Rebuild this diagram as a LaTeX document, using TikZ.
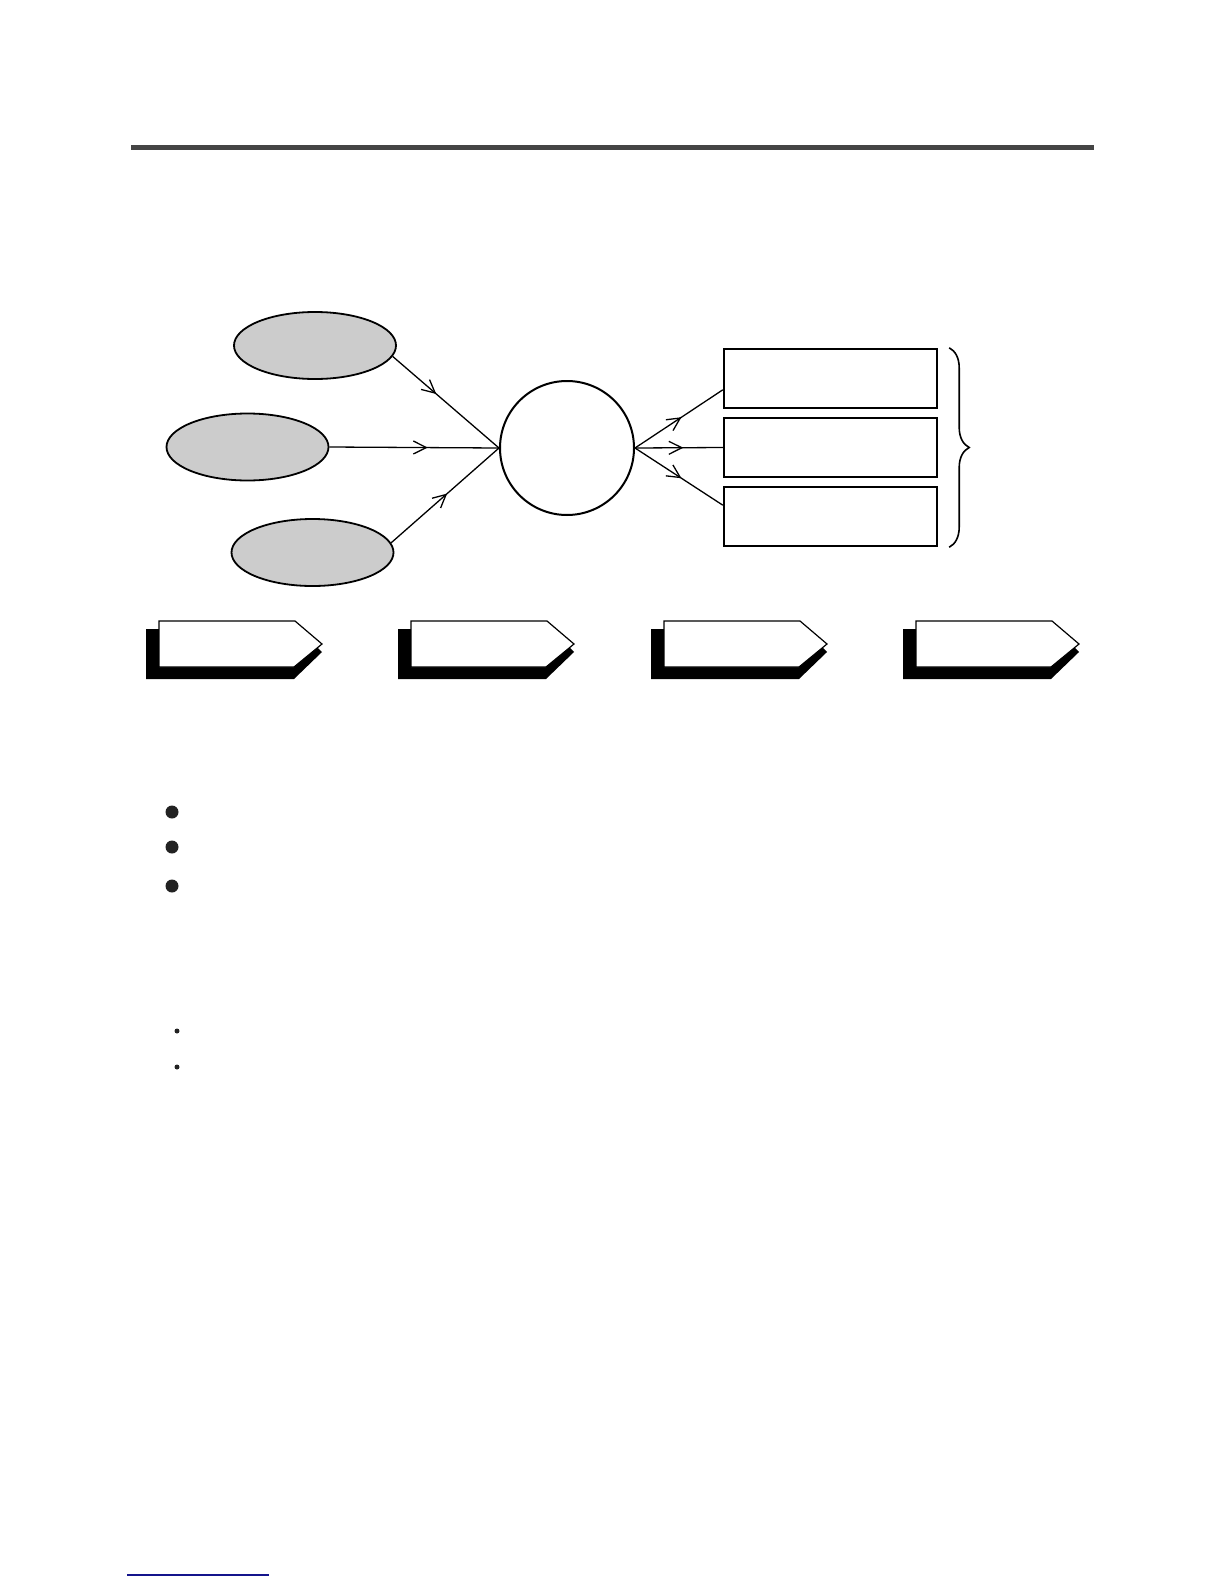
\documentclass[tikz,border=0pt]{standalone}
\usepackage{tikz}
\usetikzlibrary{positioning, shapes.geometric, decorations.markings, decorations.pathreplacing, arrows.meta}
\definecolor{rulegray}{RGB}{69,69,69}
\definecolor{ovalgray}{RGB}{204,204,204}
\definecolor{dotblack}{RGB}{34,34,34}
\definecolor{footblue}{RGB}{20,20,140}

\begin{document}
\begin{tikzpicture}[x=0.5pt, y=-0.5pt,
    oval/.style={ellipse, draw, line width=0.9pt, fill=ovalgray, minimum width=81pt, minimum height=33.5pt, inner sep=0pt},
    hub/.style={circle, draw, line width=1pt, minimum size=67pt, inner sep=0pt},
    slot/.style={rectangle, draw, line width=1.2pt, minimum width=106.5pt, minimum height=29.5pt, inner sep=0pt},
    link/.style={line width=0.65pt, postaction={decorate},
        decoration={markings, mark=at position #1 with {\arrow{Straight Barb[length=6.5pt,width=6.5pt]}}}},
    tag/.pic={
        \fill (-13,8) -- (140,8) -- (163,31) -- (135,58) -- (-13,58) -- cycle;
        \draw[fill=white, line width=0.6pt] (0,0) -- (136,0) -- (163,23) -- (135,46) -- (0,46) -- cycle;
    }]
        \useasboundingbox (0,0) rectangle (1224,1584);

        % top rule
        \fill[rulegray] (131,145) rectangle (1094,150);

        \node[oval](e1) at (315,345.5){};
        \node[oval](e2) at (247.5,447){};
        \node[oval](e3) at (312.5,552.5){};
        \node[hub](c) at (567,448){};
        \node[slot](b1) at (830.5,378.5){};
        \node[slot](b2) at (830.5,447.5){};
        \node[slot](b3) at (830.5,516.5){};

        \draw[link=0.41] (e1.-8) -- (c.west);
        \draw[link=0.58] (e2.east) -- (c.west);
        \draw[link=0.52] (e3.7) -- (c.west);
        \draw[link=0.53] (c.east) -- (b1.186);
        \draw[link=0.55] (c.east) -- (b2.west);
        \draw[link=0.53] (c.east) -- (b3.174);

        \draw[line width=0.8pt, decorate, decoration={brace, amplitude=10pt}]
            ([xshift=5.5pt]b1.north east) -- ([xshift=5.5pt]b3.south east);

        % steps
        \pic at (159,621) {tag};
        \pic at (411,621) {tag};
        \pic at (664,621) {tag};
        \pic at (916,621) {tag};

        % bullets
        \fill[dotblack] (172,812) circle (6.5);
        \fill[dotblack] (172,847) circle (6.5);
        \fill[dotblack] (172,886) circle (6.5);
        \fill[dotblack] (177,1031) circle (2.5);
        \fill[dotblack] (177,1067) circle (2.5);

        \draw[footblue, line width=0.8pt] (127,1575) -- (269,1575);
    \end{tikzpicture}
\end{document}
